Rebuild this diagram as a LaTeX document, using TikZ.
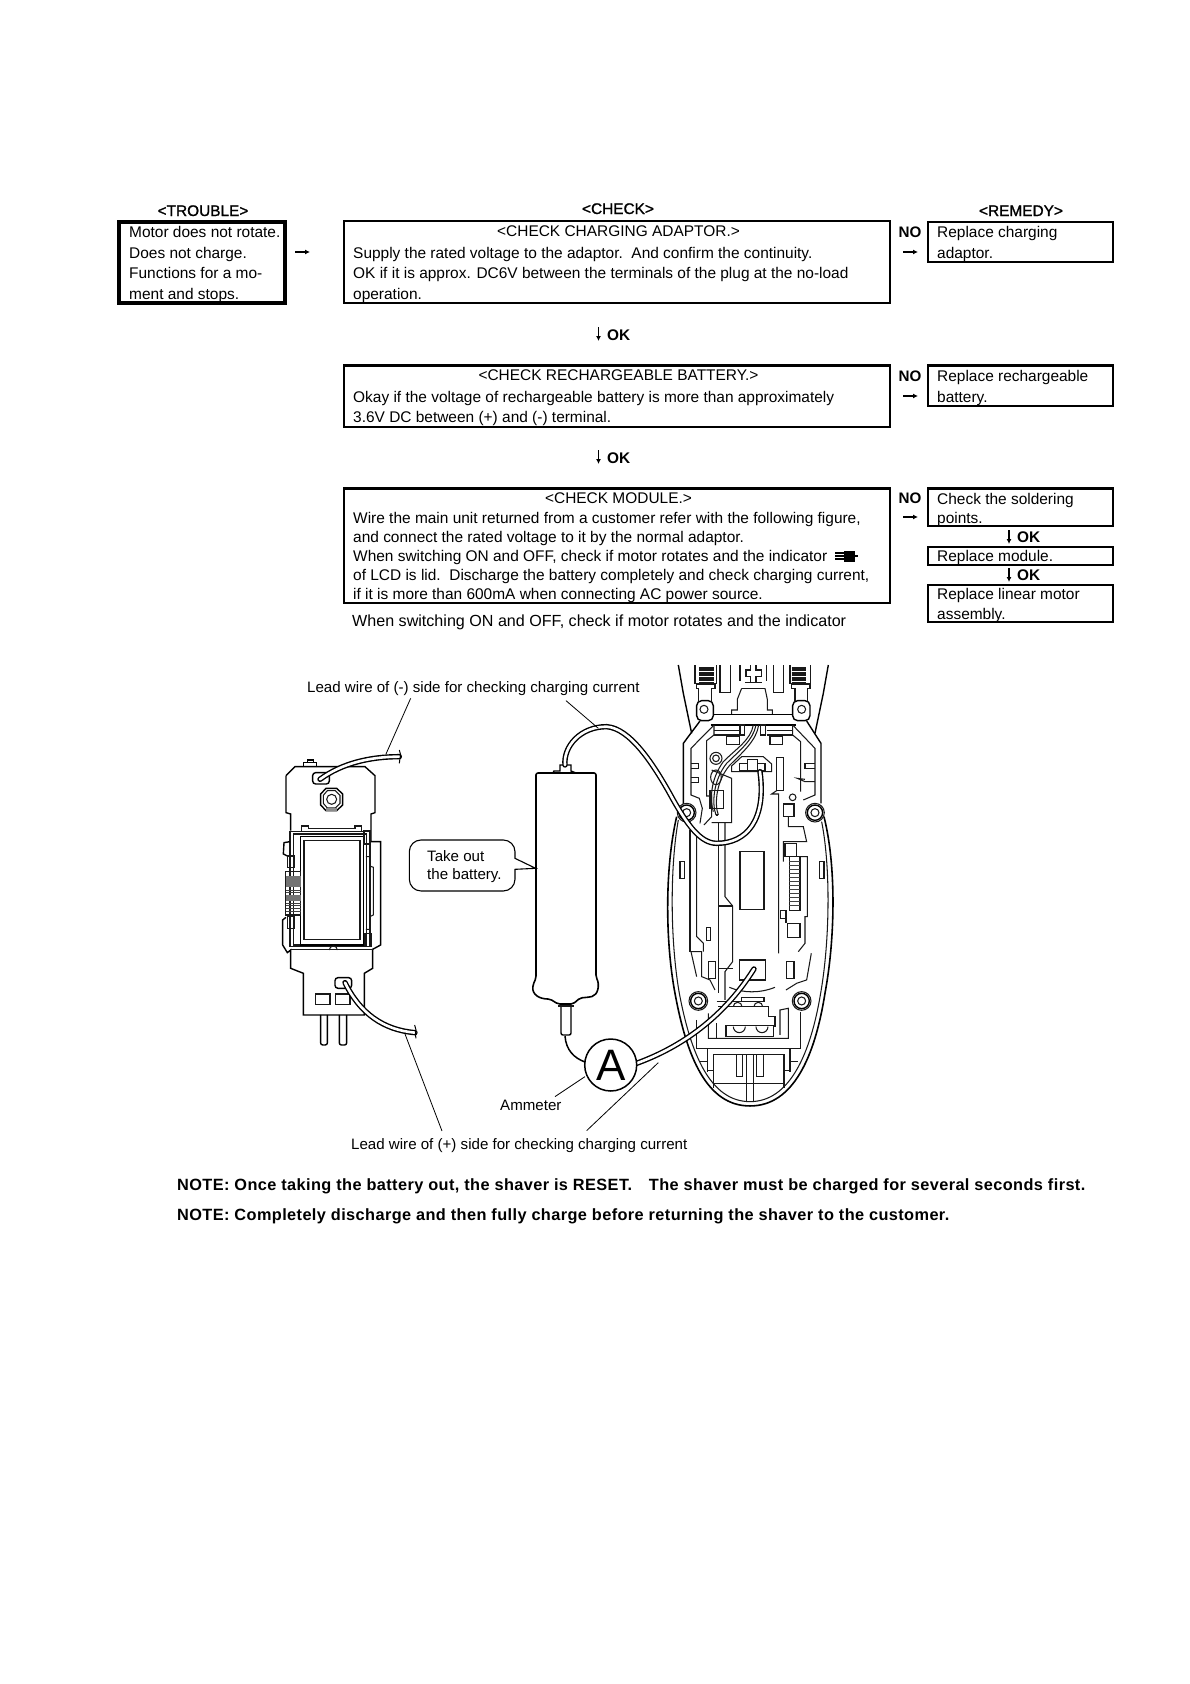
\documentclass[tikz,border=0pt]{standalone}
\usepackage{fontspec}
\setmainfont{Liberation Sans}
\newfontfamily\hb[FakeBold=1.2]{Liberation Sans}
\newfontfamily\nb[LetterSpace=2.5]{Liberation Sans}
\tikzset{
  tx/.style={anchor=base west,inner sep=0pt,font=\fontsize{15.45}{15.45}\selectfont},
  cx/.style={anchor=base,inner sep=0pt,font=\fontsize{15.45}{15.45}\selectfont},
  hd/.style={anchor=base,inner sep=0pt,font=\fontsize{15.4}{15.4}\selectfont\hb},
  okl/.style={anchor=base west,inner sep=0pt,font=\fontsize{15.4}{15.4}\selectfont\bfseries},
  nol/.style={anchor=base,inner sep=0pt,font=\fontsize{15.2}{15.2}\selectfont\bfseries},
  note/.style={anchor=base west,inner sep=0pt,font=\fontsize{16.3}{16.3}\selectfont\nb\bfseries},
  lab/.style={anchor=base west,inner sep=0pt,font=\fontsize{15.1}{15.1}\selectfont},
  box/.style={draw,line width=2.6pt},
  thinl/.style={line width=.9pt,draw=black!75},
  fine/.style={line width=1.05pt,draw=black!90},
  body/.style={line width=1.4pt},
  leader/.style={line width=.8pt},
  arr/.style={line width=1.3pt,-{Latex[length=5pt,width=5pt]}},
}
\usetikzlibrary{arrows.meta}
\newcommand{\wire}[1]{\draw[line width=5.4pt,line cap=round] #1; \draw[line width=2.6pt,white,line cap=round] #1;}
\begin{document}
\begin{tikzpicture}[x=1pt,y=-1pt]
\useasboundingbox[fill=white] (0,0) rectangle (1190,1684);
% headers
\node[hd] (hT) at (203,216) {<TROUBLE>};
\node[hd] (hC) at (618,214) {<CHECK>};
\node[hd] (hR) at (1021,216) {<REMEDY>};
% boxes
\draw[line width=4.4pt] (119,222) rectangle (285,303);
\draw[box] (344,221) rectangle (890,303);
\draw[box] (344,365.5) rectangle (890,427);
\draw[box] (344,488.5) rectangle (890,603);
\draw[box] (928,222) rectangle (1113,262);
\draw[box] (928,365.5) rectangle (1113,406);
\draw[box] (928,488.5) rectangle (1113,526);
\draw[box] (928,547) rectangle (1113,565);
\draw[box] (928,585) rectangle (1113,622);
% trouble text
\node[tx] (t1) at (129,237.5) {Motor does not rotate.};
\node[tx] (t2) at (129,258) {Does not charge.};
\node[tx] (t3) at (129,278) {Functions for a mo-};
\node[tx] (t4) at (129,299.5) {ment and stops.};
% check 1
\node[cx] (c1t) at (618.5,236) {<CHECK CHARGING ADAPTOR.>};
\node[tx] (c11) at (353,258) {Supply the rated voltage to the adaptor.\ \ And confirm the continuity.};
\node[tx] (c12) at (353,278) {OK if it is approx. DC6V between the terminals of the plug at the no-load};
\node[tx] (c13) at (353,299.5) {operation.};
% check 2
\node[cx] (c2t) at (618.5,380.5) {<CHECK RECHARGEABLE BATTERY.>};
\node[tx] (c21) at (353,402) {Okay if the voltage of rechargeable battery is more than approximately};
\node[tx] (c22) at (353,422) {3.6V DC between (+) and (-) terminal.};
% check 3
\node[cx] (c3t) at (618.5,503.5) {<CHECK MODULE.>};
\node[tx] (c31) at (353,523) {Wire the main unit returned from a customer refer with the following figure,};
\node[tx] (c32) at (353,542) {and connect the rated voltage to it by the normal adaptor.};
\node[tx] (c33) at (353,561) {When switching ON and OFF, check if motor rotates and the indicator};
\node[tx] (c34) at (353,580) {of LCD is lid.\ \ Discharge the battery completely and check charging current,};
\node[tx] (c35) at (353,599) {if it is more than 600mA when connecting AC power source.};
\node[tx,font=\fontsize{16.1}{16.1}\selectfont] (c36) at (352,626) {When switching ON and OFF, check if motor rotates and the indicator};
% plug glyph
\fill (844,550.5) rectangle (855,561.5);
\fill (835,552) rectangle (846,553.7);
\fill (835,555) rectangle (846,556.7);
\fill (835,558.3) rectangle (846,560);
\fill (855,554.5) rectangle (858,557);
% remedy text
\node[tx] (r1) at (937,237) {Replace charging};
\node[tx] (r2) at (937,258) {adaptor.};
\node[tx] (r3) at (937,381) {Replace rechargeable};
\node[tx] (r4) at (937,402) {battery.};
\node[tx] (r5) at (937,504) {Check the soldering};
\node[tx] (r6) at (937,523) {points.};
\node[tx] (r7) at (937,561) {Replace module.};
\node[tx] (r8) at (937,599) {Replace linear motor};
\node[tx] (r9) at (937,619) {assembly.};
% NO labels
\node[nol] (n1) at (910,237.5) {NO};
\node[nol] (n2) at (910,381.5) {NO};
\node[nol] (n3) at (910,503.5) {NO};
% OK labels
\node[okl] (k1) at (607,340) {OK};
\node[okl] (k2) at (607,463) {OK};
\node[okl] (k3) at (1017,542.5) {OK};
\node[okl] (k4) at (1017,580.5) {OK};
% arrows
\draw[arr] (295,252) coordinate (a0) -- ++(15,0);
\draw[arr] (903,252) coordinate (a1) -- ++(15,0);
\draw[arr] (903,396) coordinate (a2) -- ++(15,0);
\draw[arr] (903,517) coordinate (a3) -- ++(15,0);
\draw[arr] (598.5,327) coordinate (a4) -- ++(0,14);
\draw[arr] (598.5,450) coordinate (a5) -- ++(0,14);
\draw[arr] (1009,530) coordinate (a6) -- ++(0,14);
\draw[arr] (1009,568) coordinate (a7) -- ++(0,14);
% diagram labels
\node[lab] (l1) at (307,692) {Lead wire of (-) side for checking charging current};
\node[lab] (l2) at (351,1149) {Lead wire of (+) side for checking charging current};
\node[lab] (l3) at (500,1110) {Ammeter};
\node[lab] (l4) at (427,861) {Take out};
\node[lab] (l5) at (410,879) {\hspace*{17pt}the battery.};
\node[note] (no1) at (177,1190) {NOTE: Once taking the battery out, the shaver is RESET.\ \ \ \hspace{2pt}The shaver must be charged for several seconds first.};
\node[note] (no2) at (177,1220) {NOTE: Completely discharge and then fully charge before returning the shaver to the customer.};
% ===== left module
\begin{scope}[shift={(270,660)},x=.3333pt,y=-.3333pt]
\draw[body] (48,347) -- (75,320) -- (285,320) -- (315,347) -- (315,458) -- (303,462) -- (303,545) -- (332,545) -- (332,855) -- (308,868) -- (308,925) -- (283,940) -- (283,1065) -- (100,1065) -- (100,940) -- (62,925) -- (62,870) -- (52,878) -- (38,855) -- (38,780) -- (48,772);
\draw[body] (48,347) -- (48,458) -- (62,462) -- (62,512);
\draw[body] (100,320) -- (100,308) -- (140,308) -- (140,320) (113,308) -- (113,300) -- (130,300) -- (130,308);
\draw[fine] (60,515) rectangle (300,860);
\draw[fine] (70,522) rectangle (290,855);
\draw[body] (92,530) rectangle (280,855);
\draw[fine] (102,542) rectangle (270,838);
\draw[fine] (95,515) -- (95,498) -- (115,498) -- (115,505) -- (255,505) -- (255,498) -- (275,498) -- (275,515);
\draw[fine] (282,512) rectangle (300,552);
\draw[fine] (285,820) rectangle (305,860);
\draw[fine] (288,590) -- (300,590) -- (300,618) -- (310,622) -- (310,765) -- (300,770) -- (300,808) -- (288,808);
\draw[body] (60,545) -- (42,548) -- (40,582) -- (52,588);
\draw[fine] (53,588) rectangle (73,622);
\draw[fine] (53,770) rectangle (73,805);
\draw[fine] (47,635) rectangle (92,765);
\fill[black!55] (47,648) rectangle (92,680);
\fill[black!55] (47,705) rectangle (92,722);
\foreach \yy in {690,697,730,737,745,753}{\draw[thinl] (47,\yy) -- (92,\yy);}
\draw[fine] (60,868) -- (308,868);
\draw[fine] (178,870) arc[start angle=180,end angle=360,radius=12];
% slots
\draw[body,rounded corners=3pt] (128,338) rectangle (178,372);
\draw[body,rounded corners=3pt] (195,953) rectangle (245,985);
\draw[fine] (137,1002) rectangle (180,1033);
\draw[fine] (197,1002) rectangle (240,1033);
\draw[body,rounded corners=2pt] (152,1065) -- (152,1155) -- (172,1155) -- (172,1065);
\draw[body,rounded corners=2pt] (208,1065) -- (208,1155) -- (230,1155) -- (230,1065);
% button
\draw[body] (168,385) -- (200,385) -- (218,402) -- (218,435) -- (200,452) -- (168,452) -- (152,435) -- (152,402) -- cycle;
\draw[fine] (172,392) -- (196,392) -- (210,406) -- (210,430) -- (196,444) -- (172,444) -- (160,430) -- (160,406) -- cycle;
\draw[fine] (185,418) circle[radius=15];
\fill[black!45] (168,444) rectangle (200,452);
% wires
\wire{(150,358) .. controls (215,310) and (300,290) .. (388,290)}
\wire{(225,968) .. controls (270,1060) and (340,1110) .. (435,1118)}
\draw[line width=1pt] (388,270) -- (392,285) -- (390,295) -- (388,310);
\draw[line width=1pt] (434,1095) -- (438,1110) -- (436,1122) -- (438,1135);
\coordinate (w1) at (348,282);
\coordinate (w1t) at (422,115);
\coordinate (w2) at (405,1122);
\coordinate (w2t) at (516,1413);
\draw[leader] (w1t) -- (w1);
\draw[leader] (w2) -- (w2t);
% callout
\draw[line width=1.1pt] (735,595) -- (797,625) -- (735,628) -- (735,658) arc[start angle=0,end angle=90,radius=35] -- (453,693) arc[start angle=90,end angle=180,radius=35] -- (418,575) arc[start angle=180,end angle=270,radius=35] -- (700,540) arc[start angle=270,end angle=360,radius=35] -- cycle;
\end{scope}
% ===== battery
\draw[line width=1.6pt,rounded corners=2pt] (536,773) -- (596,773) -- (596,977) .. controls (600,985) and (598,995) .. (590,997) -- (580,998) -- (573,1004) -- (558,1004) -- (550,999) .. controls (540,999) and (532,995) .. (533,985) -- (536,978) -- cycle;
\draw[body] (553,773) -- (554,771) -- (560,771) -- (560,765) -- (571,765) -- (571,771) -- (576,773);
\draw[body,rounded corners=2pt] (561,1005) -- (561,1035) -- (571,1035) -- (571,1005);
\draw[fine] (558,1006) -- (574,1006);
% ===== shaver
\begin{scope}[shift={(540,660)},x=.3333pt,y=-.3333pt]
% body outlines
\draw[line width=1.6pt] (410,470) .. controls (375,620) and (375,840) .. (405,1000) .. controls (440,1190) and (500,1338) .. (630,1338) .. controls (760,1338) and (825,1190) .. (855,1000) .. controls (885,840) and (890,620) .. (852,470);
\draw[fine] (415,480) .. controls (390,620) and (390,840) .. (418,1000) .. controls (452,1180) and (510,1325) .. (630,1325) .. controls (750,1325) and (812,1180) .. (842,1000) .. controls (870,840) and (872,620) .. (845,485);
% neck
\draw[body] (415,15) -- (430,100) -- (455,220);
\draw[body] (865,15) -- (850,100) -- (825,220);
% lugs
\draw[body,rounded corners=5pt] (470,122) rectangle (520,182);
\draw[body,rounded corners=5pt] (758,122) rectangle (810,182);
\draw[fine] (492,148) circle[radius=12];
\draw[fine] (785,148) circle[radius=12];
\draw[fine] (475,122) -- (475,85) -- (470,85) -- (470,72) -- (525,72) -- (525,85) -- (515,85) -- (515,122);
\draw[fine] (765,122) -- (765,85) -- (755,85) -- (755,72) -- (810,72) -- (810,85) -- (803,85) -- (803,122);
\foreach \yy in {22,27,32,37,42,47,52,57,62,67}{
 \draw[fine] (478,\yy) -- (522,\yy);
 \draw[fine] (755,\yy) -- (798,\yy);}
\draw[fine] (465,15) -- (465,72) (530,15) -- (530,72) (750,15) -- (750,72) (812,15) -- (812,72);
\draw[fine] (540,15) -- (540,98) -- (572,98) -- (572,15);
\draw[fine] (700,15) -- (700,98) -- (730,98) -- (730,15);
\draw[fine] (600,15) -- (600,62) (680,15) -- (680,62);
\draw[fine] (632,15) -- (632,30) -- (618,30) -- (618,50) -- (632,50) -- (632,68) -- (648,68) -- (648,50) -- (664,50) -- (664,30) -- (648,30) -- (648,15);
\draw[fine] (615,68) -- (665,68);
\draw[fine] (605,85) -- (592,118) -- (592,150) -- (575,150) -- (575,163);
\draw[fine] (675,85) -- (682,118) -- (682,150) -- (697,150) -- (697,163);
\draw[fine] (605,85) -- (675,85);
\draw[body] (520,163) -- (758,163);
\draw[body] (512,195) -- (768,195);
% head housing
\draw[body] (480,183) -- (430,250) -- (430,440);
\draw[body] (800,183) -- (843,250) -- (843,430);
\draw[fine] (522,195) -- (453,265) -- (453,405) -- (478,415) -- (487,445) -- (480,490);
\draw[fine] (758,195) -- (825,265) -- (825,405) -- (790,420);
\draw[fine] (522,195) -- (522,225) -- (500,242) -- (500,408) -- (515,408) -- (515,470) -- (492,495);
\draw[fine] (758,195) -- (758,225) -- (782,245) -- (782,395);
\draw[fine] (522,225) -- (600,225) (522,212) -- (600,212) (680,212) -- (758,212) (680,225) -- (758,225);
\draw[fine] (600,195) rectangle (614,225);
\draw[fine] (662,195) rectangle (676,225);
\draw[fine] (560,230) rectangle (598,253);
\draw[fine] (690,230) rectangle (728,253);
\draw[fine] (453,310) -- (476,310) -- (476,325) -- (453,325);
\draw[fine] (453,353) -- (476,353) -- (476,368) -- (453,368);
\draw[fine] (825,310) -- (795,310) -- (795,325) -- (825,325);
\draw[fine] (825,365) -- (795,365) -- (772,355) -- (795,358);
% connector
\draw[fine] (575,335) -- (575,318) -- (605,290) -- (670,290) -- (695,312) -- (695,335) -- cycle;
\draw[fine] (598,310) rectangle (622,332);
\draw[fine] (622,298) rectangle (652,332);
\draw[fine] (652,310) rectangle (675,332);
% coils
\draw[fine] (528,295) circle[radius=18];
\draw[fine] (528,295) circle[radius=10];
\draw[fine] (528,352) ellipse[x radius=16,y radius=22];
\draw[fine] (510,392) rectangle (550,445);
% module lines
\draw[fine] (515,330) -- (575,355) -- (575,488) -- (515,488);
\draw[fine] (535,488) -- (535,1000);
\draw[fine] (555,488) -- (555,710) -- (578,738) -- (578,905) -- (555,935) -- (555,1020);
\draw[fine] (535,738) -- (578,738);
\draw[fine] (535,925) -- (578,925);
\draw[fine] (470,530) -- (470,830) -- (490,850) -- (490,875);
\draw[fine] (450,510) -- (450,875);
\draw[fine] (600,575) rectangle (672,748);
\draw[fine] (710,292) rectangle (730,392);
\draw[fine] (710,392) -- (695,402) -- (716,402) -- (716,880);
\draw[fine] (758,412) circle[radius=10];
\draw[fine] (730,432) rectangle (762,470);
\draw[fine] (745,470) -- (745,500) -- (790,500) -- (800,545) -- (730,545) -- (730,605);
\draw[fine] (735,550) rectangle (770,590);
\draw[fine] (748,590) rectangle (780,752);
\foreach \yy in {605,617,629,641,653,665,677,689,701,713,725,737}{\draw[thinl] (748,\yy) -- (780,\yy);}
\draw[fine] (780,590) -- (802,590) -- (802,770) -- (795,770) -- (795,850) -- (775,875);
\draw[fine] (722,752) rectangle (738,775);
\draw[fine] (742,790) rectangle (780,832);
\draw[fine] (738,775) -- (738,790);
\draw[fine] (420,605) rectangle (434,655);
\draw[fine] (838,605) rectangle (852,655);
\draw[fine] (500,802) rectangle (511,842);
\draw[fine] (814,880) -- (800,960) -- (770,970) -- (738,990);
\draw[fine] (453,875) -- (470,950);
\draw[fine] (453,875) -- (485,875) -- (485,950) -- (510,960) -- (525,990);
\draw[fine] (740,905) rectangle (762,955);
\draw[fine] (505,905) rectangle (527,955);
\draw[fine] (598,900) rectangle (677,960);
\draw[fine] (568,982) .. controls (610,1000) and (660,1000) .. (705,982);
\draw[fine] (530,1025) -- (672,1025) -- (672,1012) -- (605,1012) -- (605,1025);
\draw[fine] (580,1040) arc[start angle=180,end angle=360,radius=13];
\draw[fine] (642,1040) arc[start angle=180,end angle=360,radius=13];
\draw[fine] (535,1040) -- (685,1040) -- (685,1070) -- (705,1070) -- (705,1100);
\draw[fine] (580,1100) arc[start angle=180,end angle=0,radius=18];
\draw[fine] (648,1100) arc[start angle=180,end angle=0,radius=18];
\draw[fine] (558,1098) -- (700,1098) -- (700,1130) -- (558,1130) -- cycle;
\draw[fine] (530,1090) -- (530,1135) -- (745,1135);
\draw[fine] (505,1060) -- (505,1135) -- (745,1135) -- (745,1045) -- (720,1050) -- (720,1125);
\draw[fine] (470,1080) -- (470,1165) -- (782,1165) -- (782,1055);
% battery compartment bottom
\draw[fine] (520,1185) rectangle (732,1270);
\draw[fine] (503,1165) -- (503,1235) (750,1165) -- (750,1235);
\draw[fine] (503,1232) -- (520,1232) (732,1232) -- (750,1232) (520,1270) -- (520,1285) (732,1270) -- (732,1285);
\draw[fine] (590,1185) -- (590,1250) -- (607,1250) -- (607,1185);
\draw[fine] (650,1185) -- (650,1250) -- (670,1250) -- (670,1185);
\draw[fine] (620,1185) -- (620,1325) (640,1185) -- (640,1325);
\draw[fine] (478,1205) -- (503,1205) (752,1205) -- (775,1205);
% screw posts
\foreach \cx/\cy in {440/458,825/458,475/1023,785/1023}{
 \fill[white] (\cx,\cy) circle[radius=28];
 \draw[fine] (\cx,\cy) circle[radius=28];
 \draw[body] (\cx,\cy) circle[radius=23];
 \draw[fine] (\cx,\cy) circle[radius=12];
}
% wires
\wire{(75,315) .. controls (70,260) and (120,200) .. (200,200) .. controls (270,205) and (340,310) .. (400,420) .. controls (440,490) and (480,550) .. (530,550) .. controls (620,550) and (680,480) .. (660,335)}
\wire{(290,1210) .. controls (400,1170) and (540,1090) .. (642,927)}
\draw[fine] (528,465) .. controls (515,430) and (520,360) .. (560,310) .. controls (600,270) and (640,240) .. (648,195);
\draw[fine] (535,465) .. controls (522,430) and (530,360) .. (570,315) .. controls (610,275) and (650,240) .. (656,195);
\draw[fine] (520,455) .. controls (510,420) and (510,360) .. (550,305) .. controls (590,265) and (632,240) .. (640,195);
\draw[fine] (528,465) -- (535,465);
% leaders
\coordinate (w3) at (175,205);
\coordinate (w3t) at (78,122);
\draw[leader] (w3t) -- (w3);
\coordinate (am) at (135,1250);
\coordinate (amt) at (45,1310);
\draw[leader] (am) -- (amt);
\coordinate (w4) at (355,1208);
\coordinate (w4t) at (140,1412);
\draw[leader] (w4) -- (w4t);
\end{scope}
% ammeter
\draw[line width=1.5pt] (565,1036) .. controls (566,1050) and (574,1058) .. (585,1062);
\node[circle,draw,fill=white,line width=1.5pt,minimum size=52pt,inner sep=0pt,font=\fontsize{44}{44}\selectfont] (A) at (610.7,1065) {A};
\end{tikzpicture}
\end{document}
